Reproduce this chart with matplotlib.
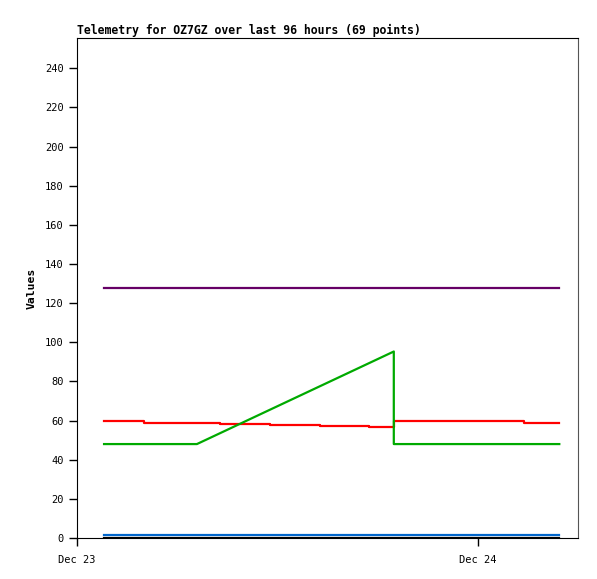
import numpy as np
import pandas as pd
import matplotlib
matplotlib.use('Agg')
import matplotlib.pyplot as plt
import matplotlib.dates as mdates

start = pd.Timestamp('2023-12-23 00:00')

# hours after Dec 23 00:00
red_hours = [1.62, 4.03, 8.57, 11.53, 14.53, 17.47, 18.97, 26.76, 28.88]
red_vals = [60, 59, 58.4, 57.8, 57.4, 56.9, 60, 59, 59]

green_hours = [1.62, 7.18, 18.97, 18.97, 28.88]
green_vals = [48, 48, 95.3, 48, 48]

purple_hours = [1.62, 28.88]
purple_vals = [128, 128]

blue_hours = [1.62, 28.88]
blue_vals = [1.5, 1.5]

black_hours = [1.62, 28.88]
black_vals = [0, 0]

title = 'Telemetry for OZ7GZ over last 96 hours (69 points)'


def to_time(hours):
    return start + pd.to_timedelta(hours, unit='h')


plt.rcParams['font.family'] = 'DejaVu Sans Mono'

fig = plt.figure(figsize=(5.97, 5.79), dpi=100)
ax = fig.add_axes([77/597, 41/579, 501/597, 500/579])

ax.plot(to_time(black_hours), black_vals, color='black', lw=1.6)
ax.plot(to_time(blue_hours), blue_vals, color='#0066cc', lw=1.6)
ax.plot(to_time(purple_hours), purple_vals, color='#660066', lw=1.6)
ax.plot(to_time(red_hours), red_vals, color='#ff0000', lw=1.6, drawstyle='steps-post')
ax.plot(to_time(green_hours), green_vals, color='#00aa00', lw=1.6)

ax.set_xlim(start, start + pd.Timedelta(hours=30))
ax.set_ylim(0, 255.5)
ax.set_yticks(np.arange(0, 241, 20))
ax.xaxis.set_major_locator(mdates.DayLocator())
ax.xaxis.set_major_formatter(mdates.DateFormatter('%b %d'))

ax.tick_params(axis='both', labelsize=7.5, direction='out', length=6, width=1, color='black')
ax.tick_params(axis='x', pad=6)
ax.spines['top'].set_color('black')
ax.spines['right'].set_color('#555555')

ax.set_ylabel('Values', fontsize=8.2, fontweight='bold', labelpad=6)
ax.set_title(title, loc='left', fontsize=8.3, fontweight='bold', pad=3)

plt.savefig('out.png', dpi=100)
